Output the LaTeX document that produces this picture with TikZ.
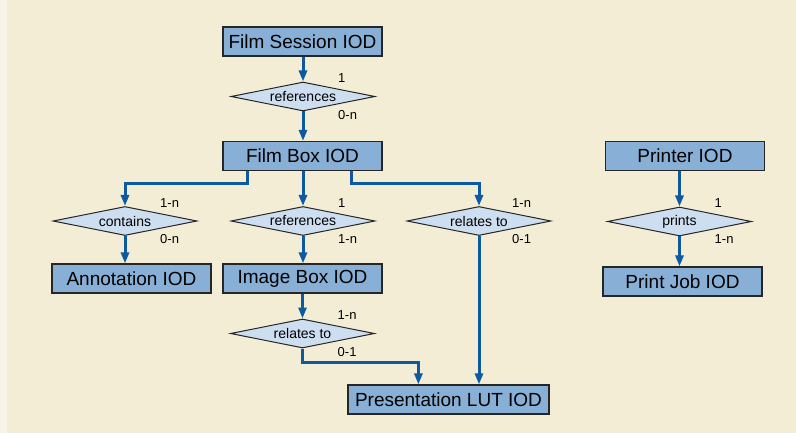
\documentclass[tikz,border=0pt]{standalone}
\usepackage{fontspec}
\setmainfont{Liberation Sans}
\usetikzlibrary{shapes.geometric,arrows.meta,calc}
\definecolor{bgc}{HTML}{F3EDD6}
\definecolor{stripc}{HTML}{F8F4E8}
\definecolor{boxc}{HTML}{88B0D6}
\definecolor{diac}{HTML}{CDDEF0}
\definecolor{arrc}{HTML}{0E5AA0}
\tikzset{
  iod/.style={draw=black!85, line width=1.2pt, fill=boxc, minimum width=159pt, minimum height=29pt, inner sep=0pt, font=\fontsize{19}{20}\selectfont},
  rel/.style={draw=black!85, line width=1pt, fill=diac, shape=diamond, aspect=5, minimum width=144pt, minimum height=29pt, inner sep=0pt, font=\fontsize{14}{15}\selectfont},
  card/.style={anchor=west, inner sep=0pt, font=\fontsize{13}{14}\selectfont},
  conn/.style={draw=arrc, line width=3pt, -{Triangle[length=11pt,width=8pt]}},
}
\begin{document}
\begin{tikzpicture}[x=1pt,y=-1pt]
\useasboundingbox (0,0) rectangle (796,433);
\fill[stripc] (0,0) rectangle (796,433);
\fill[bgc] (7,0) rectangle (796,433);
% boxes
\node[iod] (fs) at (302.5,41.5) {Film Session IOD};
\node[iod] (fb) at (302.5,156) {Film Box IOD};
\node[iod] (ann) at (131.5,278.5) {Annotation IOD};
\node[iod] (ib) at (302.5,278.5) {Image Box IOD};
\node[iod, minimum width=201pt] (plut) at (448.5,399.5) {Presentation LUT IOD};
\node[iod] (pr) at (685,156) {Printer IOD};
\node[iod] (pj) at (682.5,281.5) {Print Job IOD};
% diamonds
\node[rel] (r1) at (303,96.5) {references};
\node[rel] (con) at (125,221) {contains};
\node[rel] (r2) at (303,221) {references};
\node[rel] (rt1) at (479,221) {relates to};
\node[rel] (rt2) at (302.5,333.5) {relates to};
\node[rel] (pt) at (679.5,221.5) {prints};
% cardinalities
\node[card] (c1) at ($(r1)+(35,-18.5)$) {1};
\node[card] (c2) at ($(r1)+(35,18.5)$) {0-n};
\node[card] (c3) at ($(con)+(35,-18)$) {1-n};
\node[card] (c4) at ($(con)+(35,18)$) {0-n};
\node[card] (c5) at ($(r2)+(35,-18)$) {1};
\node[card] (c6) at ($(r2)+(35,18)$) {1-n};
\node[card] (c7) at ($(rt1)+(33,-18)$) {1-n};
\node[card] (c8) at ($(rt1)+(33,18)$) {0-1};
\node[card] (c9) at ($(rt2)+(35,-18.5)$) {1-n};
\node[card] (c10) at ($(rt2)+(35,18.5)$) {0-1};
\node[card] (c11) at ($(pt)+(35,-18.5)$) {1};
\node[card] (c12) at ($(pt)+(35,18)$) {1-n};
% connectors
\draw[conn] (fs.south -| r1.north) -- (r1.north);
\draw[conn] (r1.south) -- (r1.south |- fb.north);
\draw[conn] ([xshift=25pt]fb.south west) -- ++(0,12) -| (con.north);
\draw[conn] (fb.south -| r2.north) -- (r2.north);
\draw[conn] ([xshift=-31pt]fb.south east) -- ++(0,12) -| (rt1.north);
\draw[conn] (con.south) -- (con.south |- ann.north);
\draw[conn] (r2.south) -- (r2.south |- ib.north);
\draw[conn] (ib.south -| rt2.north) -- (rt2.north);
\draw[conn] (rt2.south) -- ++(0,14) -| ([xshift=71pt]plut.north west);
\draw[conn] (rt1.south) -- (rt1.south |- plut.north);
\draw[conn] (pr.south -| pt.north) -- (pt.north);
\draw[conn] (pt.south) -- (pt.south |- pj.north);
\end{tikzpicture}
\end{document}
